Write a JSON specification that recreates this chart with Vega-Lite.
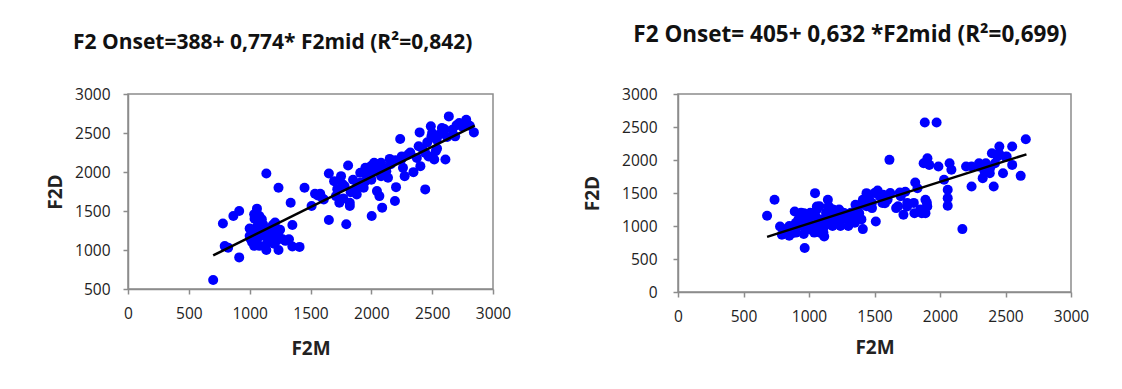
{
  "$schema": "https://vega.github.io/schema/vega-lite/v6.json",
  "padding": {"left": 45, "top": 22, "right": 5, "bottom": 5},
  "bounds": "flush",
  "spacing": 185,
  "background": "white",
  "config": {
    "view": {"stroke": "#8c8c8c", "strokeWidth": 1.5},
    "axis": {
      "grid": false,
      "format": "d",
      "labelOverlap": false,
      "labelFlush": false,
      "domainColor": "#8c8c8c",
      "domainWidth": 1.5,
      "tickColor": "#8c8c8c",
      "tickWidth": 1.5,
      "tickSize": 5,
      "labelFont": "Open Sans",
      "labelFontSize": 15.5,
      "labelColor": "#222222",
      "titleFont": "Open Sans",
      "titleFontSize": 19,
      "titleFontWeight": "bold",
      "titleColor": "#222222"
    },
    "title": {"font": "Open Sans", "fontWeight": "bold", "color": "#111111"}
  },
  "datasets": {
    "left": [
      {"F2M": 700, "F2D": 615}, {"F2M": 780, "F2D": 1340}, {"F2M": 795, "F2D": 1050}, {"F2M": 823, "F2D": 1030},
      {"F2M": 866, "F2D": 1435}, {"F2M": 914, "F2D": 1500}, {"F2M": 914, "F2D": 905}, {"F2M": 1000, "F2D": 1275},
      {"F2M": 1009, "F2D": 1138}, {"F2M": 1037, "F2D": 1457}, {"F2M": 1060, "F2D": 1530}, {"F2M": 1080, "F2D": 1436},
      {"F2M": 1100, "F2D": 1394}, {"F2M": 1051, "F2D": 1223}, {"F2M": 1037, "F2D": 1053}, {"F2M": 1080, "F2D": 1053},
      {"F2M": 1137, "F2D": 1000}, {"F2M": 1151, "F2D": 1138}, {"F2M": 1209, "F2D": 1223}, {"F2M": 1209, "F2D": 1351},
      {"F2M": 1237, "F2D": 1181}, {"F2M": 1271, "F2D": 1138}, {"F2M": 1237, "F2D": 1000}, {"F2M": 1294, "F2D": 1117},
      {"F2M": 1323, "F2D": 1138}, {"F2M": 1351, "F2D": 1321}, {"F2M": 1337, "F2D": 1606}, {"F2M": 1237, "F2D": 1798},
      {"F2M": 1137, "F2D": 1981}, {"F2M": 1451, "F2D": 1798}, {"F2M": 1351, "F2D": 1045}, {"F2M": 1410, "F2D": 1040},
      {"F2M": 1020, "F2D": 1100}, {"F2M": 1060, "F2D": 1300}, {"F2M": 1090, "F2D": 1250}, {"F2M": 1120, "F2D": 1180},
      {"F2M": 1150, "F2D": 1270}, {"F2M": 1180, "F2D": 1150}, {"F2M": 1200, "F2D": 1080}, {"F2M": 1070, "F2D": 1160},
      {"F2M": 1110, "F2D": 1330}, {"F2M": 1250, "F2D": 1260}, {"F2M": 1190, "F2D": 1320}, {"F2M": 1040, "F2D": 1400},
      {"F2M": 1130, "F2D": 1060}, {"F2M": 1000, "F2D": 1180}, {"F2M": 1220, "F2D": 1120}, {"F2M": 1160, "F2D": 1200},
      {"F2M": 1509, "F2D": 1564}, {"F2M": 1537, "F2D": 1721}, {"F2M": 1580, "F2D": 1721}, {"F2M": 1609, "F2D": 1649},
      {"F2M": 1651, "F2D": 1981}, {"F2M": 1651, "F2D": 1385}, {"F2M": 1694, "F2D": 1883}, {"F2M": 1751, "F2D": 1947},
      {"F2M": 1709, "F2D": 1691}, {"F2M": 1737, "F2D": 1606}, {"F2M": 1780, "F2D": 1819}, {"F2M": 1794, "F2D": 1330},
      {"F2M": 1809, "F2D": 2083}, {"F2M": 1823, "F2D": 1606}, {"F2M": 1823, "F2D": 1564}, {"F2M": 1851, "F2D": 1755},
      {"F2M": 1880, "F2D": 1713}, {"F2M": 1909, "F2D": 1862}, {"F2M": 1909, "F2D": 1989}, {"F2M": 1937, "F2D": 1798},
      {"F2M": 1951, "F2D": 2053}, {"F2M": 1966, "F2D": 1947}, {"F2M": 1994, "F2D": 1926}, {"F2M": 2009, "F2D": 2053},
      {"F2M": 2003, "F2D": 1436}, {"F2M": 2023, "F2D": 2117}, {"F2M": 2037, "F2D": 2011}, {"F2M": 2046, "F2D": 1755},
      {"F2M": 2066, "F2D": 1691}, {"F2M": 2080, "F2D": 2117}, {"F2M": 2080, "F2D": 1947}, {"F2M": 2089, "F2D": 1543},
      {"F2M": 2123, "F2D": 2011}, {"F2M": 2137, "F2D": 1926}, {"F2M": 2151, "F2D": 2168}, {"F2M": 2203, "F2D": 1806},
      {"F2M": 2194, "F2D": 1628}, {"F2M": 2237, "F2D": 2423}, {"F2M": 2246, "F2D": 2160}, {"F2M": 2260, "F2D": 2053},
      {"F2M": 2274, "F2D": 1947}, {"F2M": 2303, "F2D": 2223}, {"F2M": 2346, "F2D": 1998}, {"F2M": 2374, "F2D": 2181},
      {"F2M": 2389, "F2D": 2330}, {"F2M": 2403, "F2D": 2075}, {"F2M": 2397, "F2D": 2508}, {"F2M": 2443, "F2D": 2245},
      {"F2M": 2443, "F2D": 1777}, {"F2M": 2489, "F2D": 2585}, {"F2M": 2494, "F2D": 2457}, {"F2M": 2517, "F2D": 2160},
      {"F2M": 2529, "F2D": 2266}, {"F2M": 2537, "F2D": 2415}, {"F2M": 2580, "F2D": 2564}, {"F2M": 2609, "F2D": 2160},
      {"F2M": 2623, "F2D": 2449}, {"F2M": 2637, "F2D": 2713}, {"F2M": 2666, "F2D": 2542}, {"F2M": 2689, "F2D": 2457},
      {"F2M": 2723, "F2D": 2628}, {"F2M": 2780, "F2D": 2670}, {"F2M": 2809, "F2D": 2594}, {"F2M": 2843, "F2D": 2508},
      {"F2M": 1720, "F2D": 1780}, {"F2M": 1760, "F2D": 1850}, {"F2M": 1850, "F2D": 1900}, {"F2M": 1880, "F2D": 1800},
      {"F2M": 1960, "F2D": 2000}, {"F2M": 2000, "F2D": 2080}, {"F2M": 2050, "F2D": 2100}, {"F2M": 2100, "F2D": 2050},
      {"F2M": 2000, "F2D": 1900}, {"F2M": 1950, "F2D": 1880}, {"F2M": 1770, "F2D": 1660}, {"F2M": 1830, "F2D": 1740},
      {"F2M": 2160, "F2D": 2100}, {"F2M": 2200, "F2D": 2150}, {"F2M": 2250, "F2D": 2200}, {"F2M": 2320, "F2D": 2250},
      {"F2M": 2420, "F2D": 2300}, {"F2M": 2460, "F2D": 2380}, {"F2M": 2500, "F2D": 2500}, {"F2M": 2560, "F2D": 2480},
      {"F2M": 2600, "F2D": 2550}, {"F2M": 2700, "F2D": 2600}, {"F2M": 2750, "F2D": 2580}, {"F2M": 2470, "F2D": 2200},
      {"F2M": 2540, "F2D": 2300}, {"F2M": 1560, "F2D": 1700}, {"F2M": 1600, "F2D": 1660}
    ],
    "left_fit": [{"F2M": 700, "F2D": 930}, {"F2M": 2850, "F2D": 2594}],
    "right": [
      {"F2M": 680, "F2D": 1155}, {"F2M": 737, "F2D": 1397}, {"F2M": 779, "F2D": 993}, {"F2M": 793, "F2D": 867},
      {"F2M": 821, "F2D": 893}, {"F2M": 849, "F2D": 852}, {"F2M": 877, "F2D": 893}, {"F2M": 891, "F2D": 1220},
      {"F2M": 905, "F2D": 993}, {"F2M": 933, "F2D": 1145}, {"F2M": 962, "F2D": 1195}, {"F2M": 967, "F2D": 666},
      {"F2M": 990, "F2D": 1044}, {"F2M": 1018, "F2D": 943}, {"F2M": 1046, "F2D": 1498}, {"F2M": 1060, "F2D": 1296},
      {"F2M": 1088, "F2D": 893}, {"F2M": 1116, "F2D": 842}, {"F2M": 1144, "F2D": 1397}, {"F2M": 1158, "F2D": 1145},
      {"F2M": 1186, "F2D": 1246}, {"F2M": 1214, "F2D": 1044}, {"F2M": 1242, "F2D": 1094}, {"F2M": 1271, "F2D": 1195},
      {"F2M": 1313, "F2D": 1094}, {"F2M": 1355, "F2D": 1321}, {"F2M": 1383, "F2D": 1195}, {"F2M": 1411, "F2D": 953},
      {"F2M": 1411, "F2D": 1397}, {"F2M": 1439, "F2D": 1498}, {"F2M": 1481, "F2D": 1271}, {"F2M": 1510, "F2D": 1069},
      {"F2M": 1524, "F2D": 1538}, {"F2M": 1566, "F2D": 1473}, {"F2M": 1580, "F2D": 1346}, {"F2M": 1614, "F2D": 2002},
      {"F2M": 1665, "F2D": 1271}, {"F2M": 1693, "F2D": 1508}, {"F2M": 1721, "F2D": 1170}, {"F2M": 1735, "F2D": 1518},
      {"F2M": 1749, "F2D": 1296}, {"F2M": 1805, "F2D": 1195}, {"F2M": 1811, "F2D": 1659}, {"F2M": 1828, "F2D": 1573},
      {"F2M": 1861, "F2D": 1195}, {"F2M": 1884, "F2D": 2567}, {"F2M": 1974, "F2D": 2567}, {"F2M": 1875, "F2D": 1952},
      {"F2M": 1904, "F2D": 2027}, {"F2M": 1918, "F2D": 1926}, {"F2M": 1889, "F2D": 1397}, {"F2M": 1903, "F2D": 1296},
      {"F2M": 1889, "F2D": 1195}, {"F2M": 1988, "F2D": 1901}, {"F2M": 2031, "F2D": 1700}, {"F2M": 2059, "F2D": 1548},
      {"F2M": 2059, "F2D": 1422}, {"F2M": 2059, "F2D": 1306}, {"F2M": 2073, "F2D": 1952}, {"F2M": 2087, "F2D": 1851},
      {"F2M": 2171, "F2D": 953}, {"F2M": 2199, "F2D": 1901}, {"F2M": 2241, "F2D": 1599}, {"F2M": 2241, "F2D": 1901},
      {"F2M": 2298, "F2D": 1952}, {"F2M": 2326, "F2D": 1725}, {"F2M": 2340, "F2D": 1826}, {"F2M": 2382, "F2D": 1876},
      {"F2M": 2396, "F2D": 2103}, {"F2M": 2410, "F2D": 1599}, {"F2M": 2439, "F2D": 2053}, {"F2M": 2453, "F2D": 2204},
      {"F2M": 2481, "F2D": 1800}, {"F2M": 2509, "F2D": 2053}, {"F2M": 2551, "F2D": 1926}, {"F2M": 2551, "F2D": 2204},
      {"F2M": 2616, "F2D": 1760}, {"F2M": 2655, "F2D": 2315},
      {"F2M": 820, "F2D": 950}, {"F2M": 850, "F2D": 1000}, {"F2M": 870, "F2D": 940}, {"F2M": 900, "F2D": 1050},
      {"F2M": 920, "F2D": 1100}, {"F2M": 950, "F2D": 1000}, {"F2M": 960, "F2D": 1150}, {"F2M": 980, "F2D": 950},
      {"F2M": 1000, "F2D": 1100}, {"F2M": 1010, "F2D": 1200}, {"F2M": 1030, "F2D": 1000}, {"F2M": 1050, "F2D": 1150},
      {"F2M": 1070, "F2D": 1050}, {"F2M": 1080, "F2D": 950}, {"F2M": 1100, "F2D": 1100}, {"F2M": 1120, "F2D": 1000},
      {"F2M": 1130, "F2D": 1200}, {"F2M": 1150, "F2D": 1050}, {"F2M": 1170, "F2D": 1100}, {"F2M": 1180, "F2D": 1250},
      {"F2M": 1200, "F2D": 1150}, {"F2M": 1220, "F2D": 1050}, {"F2M": 1250, "F2D": 1100}, {"F2M": 1260, "F2D": 1200},
      {"F2M": 1280, "F2D": 1150}, {"F2M": 1300, "F2D": 1100}, {"F2M": 1320, "F2D": 1200}, {"F2M": 1340, "F2D": 1150},
      {"F2M": 1360, "F2D": 1250}, {"F2M": 1380, "F2D": 1300}, {"F2M": 1400, "F2D": 1100}, {"F2M": 1420, "F2D": 1350},
      {"F2M": 1440, "F2D": 1300}, {"F2M": 1460, "F2D": 1400}, {"F2M": 1480, "F2D": 1350}, {"F2M": 940, "F2D": 1200},
      {"F2M": 990, "F2D": 1050}, {"F2M": 1040, "F2D": 900}, {"F2M": 1060, "F2D": 1250}, {"F2M": 900, "F2D": 900},
      {"F2M": 1110, "F2D": 900}, {"F2M": 1180, "F2D": 1000}, {"F2M": 1230, "F2D": 1250}, {"F2M": 1300, "F2D": 1000},
      {"F2M": 1350, "F2D": 1050}, {"F2M": 1020, "F2D": 1180}, {"F2M": 880, "F2D": 1000}, {"F2M": 960, "F2D": 880},
      {"F2M": 1240, "F2D": 1000}, {"F2M": 1150, "F2D": 1300}, {"F2M": 1080, "F2D": 1300}, {"F2M": 1500, "F2D": 1500},
      {"F2M": 1540, "F2D": 1450}, {"F2M": 1600, "F2D": 1400}, {"F2M": 1620, "F2D": 1500}, {"F2M": 1560, "F2D": 1350},
      {"F2M": 1700, "F2D": 1450}, {"F2M": 1750, "F2D": 1350}, {"F2M": 1680, "F2D": 1300}, {"F2M": 1800, "F2D": 1350},
      {"F2M": 1850, "F2D": 1250}, {"F2M": 1900, "F2D": 1350}, {"F2M": 2350, "F2D": 1950}, {"F2M": 2420, "F2D": 1950},
      {"F2M": 2300, "F2D": 1900}, {"F2M": 2450, "F2D": 2100}, {"F2M": 2500, "F2D": 2050}, {"F2M": 2380, "F2D": 1800}
    ],
    "right_fit": [{"F2M": 680, "F2D": 835}, {"F2M": 2660, "F2D": 2086}]
  },
  "hconcat": [
    {
      "width": 365,
      "height": 195,
      "title": {"text": "F2 Onset=388+ 0,774* F2mid (R²=0,842)", "anchor": "middle", "frame": "bounds", "offset": 34, "fontSize": 21, "dx": -6},
      "encoding": {
        "x": {"field": "F2M", "type": "quantitative", "scale": {"domain": [0, 3000]},
              "axis": {"values": [0, 500, 1000, 1500, 2000, 2500, 3000], "labelOverlap": false, "labelFlush": false, "labelPadding": 12, "titlePadding": 18}},
        "y": {"field": "F2D", "type": "quantitative", "scale": {"domain": [500, 3000]},
              "axis": {"values": [500, 1000, 1500, 2000, 2500, 3000], "labelOverlap": false, "labelFlush": false, "labelPadding": 13, "titlePadding": 9}}
      },
      "layer": [
        {
          "data": {"name": "left"},
          "mark": {"type": "circle", "size": 100, "color": "#0000FF", "opacity": 1}
        },
        {
          "data": {"name": "left_fit"},
          "mark": {"type": "line", "color": "black", "strokeWidth": 2.5}
        }
      ]
    },
    {
      "width": 393,
      "height": 198,
      "title": {"text": "F2 Onset= 405+ 0,632 *F2mid (R²=0,699)", "anchor": "middle", "frame": "bounds", "offset": 41, "fontSize": 22.5, "dx": 14},
      "encoding": {
        "x": {"field": "F2M", "type": "quantitative", "scale": {"domain": [0, 3000]},
              "axis": {"values": [0, 500, 1000, 1500, 2000, 2500, 3000], "labelOverlap": false, "labelFlush": false, "labelPadding": 12, "titlePadding": 14}},
        "y": {"field": "F2D", "type": "quantitative", "scale": {"domain": [0, 3000]},
              "axis": {"values": [0, 500, 1000, 1500, 2000, 2500, 3000], "labelOverlap": false, "labelFlush": false, "labelPadding": 16, "titlePadding": 19}}
      },
      "layer": [
        {
          "data": {"name": "right"},
          "mark": {"type": "circle", "size": 100, "color": "#0000FF", "opacity": 1}
        },
        {
          "data": {"name": "right_fit"},
          "mark": {"type": "line", "color": "black", "strokeWidth": 2.5}
        }
      ]
    }
  ]
}
